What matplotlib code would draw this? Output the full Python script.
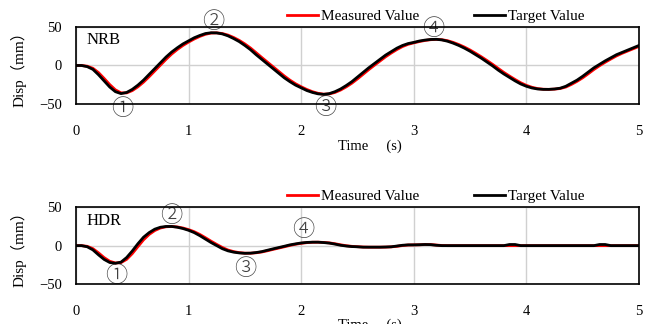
import numpy as np
import matplotlib.pyplot as plt

plt.rcParams['font.family'] = ['Liberation Serif', 'Noto Sans CJK JP', 'DejaVu Sans']

# time axis (s), 0.05 s steps
time = np.round(np.arange(0, 5.001, 0.05), 2)

# NRB displacement (mm)
nrb_target = [0, 0, -1.5, -5, -12, -20, -28, -34, -36.5, -35,
              -31, -25.5, -19, -11.5, -4, 3.5, 11, 17.5, 23, 28,
              32, 36, 39, 41.5, 42.5, 42.3, 41, 38.5, 35, 31,
              26, 20.5, 14, 8, 2, -4, -10, -16, -21, -25.5,
              -29, -32.5, -35, -36.8, -37.5, -36.5, -34, -30.5, -26, -21,
              -15, -9, -3, 2.5, 8, 13.5, 18, 22.5, 26, 28.5,
              30, 31.8, 33, 33.8, 34, 33.2, 31.5, 29, 26, 22.5,
              18.5, 14, 9.5, 4.5, -0.5, -6, -11, -15.5, -20, -24,
              -27, -29.2, -30.5, -31, -31, -30.5, -29.5, -27, -23, -19,
              -14, -8.5, -3, 1.5, 6, 10, 14, 17, 20, 23,
              26]
nrb_measured = [0, 0, -0.9, -3.6, -9.2, -16.8, -24.8, -31.6, -35.5, -35.6,
                -32.6, -27.7, -21.6, -14.5, -7, 0.5, 8, 14.9, 20.8, 26,
                30.4, 34.4, 37.8, 40.5, 42.1, 42.4, 41.5, 39.5, 36.4, 32.6,
                28, 22.7, 16.6, 10.4, 4.4, -1.6, -7.6, -13.6, -19, -23.7,
                -27.6, -31.1, -34, -36.1, -37.2, -36.9, -35, -31.9, -27.8, -23,
                -17.4, -11.4, -5.4, 0.3, 5.8, 11.3, 16.2, 20.7, 24.6, 27.5,
                29.4, 31.1, 32.5, 33.5, 33.9, 33.5, 32.2, 30, 27.2, 23.9,
                20.1, 15.8, 11.3, 6.5, 1.5, -3.8, -9, -13.7, -18.2, -22.4,
                -25.8, -28.3, -30, -30.8, -31, -30.7, -29.9, -28, -24.6, -20.6,
                -16, -10.7, -5.2, -0.3, 4.2, 8.4, 12.4, 15.8, 18.8, 21.8,
                24.8]

# HDR displacement (mm)
hdr_target = [0, 0, -1.5, -5.5, -12, -18, -22, -23, -21.5, -15.5,
              -7, 2.5, 11, 17, 21.5, 24, 25, 25, 24, 22.3,
              20, 17, 13, 8.5, 4, 0, -4, -6.8, -8.5, -9.5,
              -10, -9.8, -9, -7.8, -6, -4.2, -2.5, -0.8, 1, 2.3,
              3.5, 4.2, 4.5, 4.5, 4, 3.3, 2, 0.5, -0.5, -1.2,
              -1.5, -2, -2, -2, -2, -1.8, -1.5, -0.5, 0.5, 1,
              1, 1.2, 1.5, 1.3, 0.5, 0, 0, 0, 0, 0,
              0, 0, 0, 0, 0, 0, 0, 1.5, 1.5, 0,
              0, 0, 0, 0, 0, 0, 0, 0, 0, 0,
              0, 0, 0, 1.5, 1.5, 0, 0, 0, 0, 0,
              0]
hdr_measured = [0, 0, -0.9, -3.9, -9.4, -15.6, -20.4, -22.6, -22.1, -17.9,
                -10.4, -1.3, 7.6, 14.6, 19.7, 23, 24.6, 25, 24.4, 23,
                20.9, 18.2, 14.6, 10.3, 5.8, 1.6, -2.4, -5.7, -7.8, -9.1,
                -9.8, -9.9, -9.3, -8.3, -6.7, -4.9, -3.2, -1.5, 0.3, 1.8,
                3, 3.9, 4.4, 4.5, 4.2, 3.6, 2.5, 1.1, -0.1, -0.9,
                -1.4, -1.8, -2, -2, -2, -1.9, -1.6, -0.9, 0.1, 0.8,
                1, 1.1, 1.4, 1.4, 0.8, 0.2, 0, 0, 0, 0,
                0, 0, 0, 0, 0, 0, 0, 0, 0, 0,
                0, 0, 0, 0, 0, 0, 0, 0, 0, 0,
                0, 0, 0, 0, 0, 0, 0, 0, 0, 0,
                0]

# circled labels: (text, t, disp)
nrb_marks = [('①', 0.415, -56), ('②', 1.22, 57), ('③', 2.21, -55), ('④', 3.17, 48)]
hdr_marks = [('①', 0.355, -40), ('②', 0.845, 38), ('③', 1.50, -31), ('④', 2.02, 21)]

fig = plt.figure(figsize=(6.51, 3.24), dpi=100)
ax1 = fig.add_axes([0.1167, 0.679, 0.8648, 0.2377])
ax2 = fig.add_axes([0.1167, 0.1235, 0.8648, 0.2367])

panels = [(ax1, 'NRB', nrb_measured, nrb_target, nrb_marks),
          (ax2, 'HDR', hdr_measured, hdr_target, hdr_marks)]

for ax, name, meas, targ, marks in panels:
    ax.plot(time, meas, color='#ff0000', lw=2.0, label='Measured Value', zorder=3)
    ax.plot(time, targ, color='black', lw=2.0, label='Target Value', zorder=4)
    ax.set_xlim(0, 5)
    ax.set_ylim(-50, 50)
    ax.set_xticks([0, 1, 2, 3, 4, 5])
    ax.set_yticks([-50, 0, 50])
    ax.grid(True, color='#d0d0d0', lw=1.0, zorder=0)
    ax.tick_params(length=0, labelsize=10.5)
    ax.tick_params(axis='x', pad=15)
    ax.tick_params(axis='y', pad=10)
    for s in ax.spines.values():
        s.set_linewidth(1.2)
        s.set_zorder(5)
    ax.text(0.019, 0.93, name, transform=ax.transAxes, fontsize=12, va='top', ha='left')
    ax.set_ylabel('Disp（mm）', fontsize=11)
    ax.yaxis.set_label_coords(-0.088, 0.5)
    ax.set_xlabel('Time     (s)', fontsize=10.5)
    ax.xaxis.set_label_coords(0.522, -0.455)
    for txt, tx, ty in marks:
        ax.text(tx, ty, txt, fontsize=16, ha='center', va='center', color='#404040',
                family=['Noto Sans CJK JP', 'DejaVu Sans'], fontweight='light', clip_on=False)
    ax.legend(loc='center left', bbox_to_anchor=(0.375, 1.14), ncol=2, frameon=False,
              fontsize=11, handlelength=2.0, handletextpad=0.2, columnspacing=3.6,
              borderpad=0, borderaxespad=0)

fig.savefig('out.png', dpi=100)
